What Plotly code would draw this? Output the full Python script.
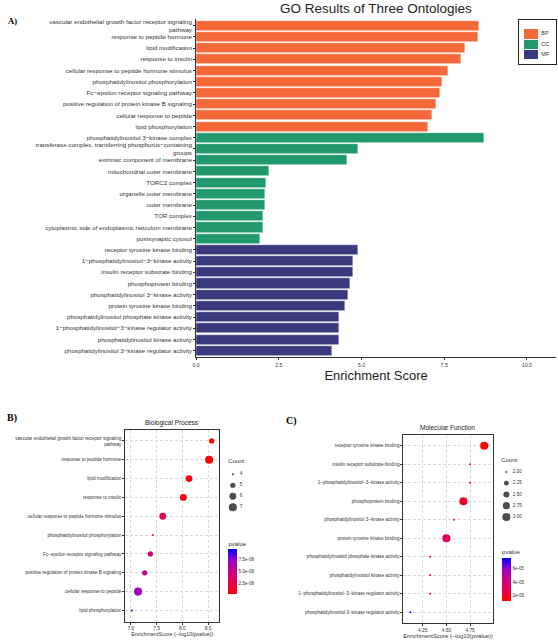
import textwrap
import numpy as np
import plotly.graph_objects as go

W, H = 558, 642

# ---------------- data ----------------
bp_terms = [
    "vascular endothelial growth factor receptor signaling pathway",
    "response to peptide hormone",
    "lipid modification",
    "response to insulin",
    "cellular response to peptide hormone stimulus",
    "phosphatidylinositol phosphorylation",
    "Fc−epsilon receptor signaling pathway",
    "positive regulation of protein kinase B signaling",
    "cellular response to peptide",
    "lipid phosphorylation",
]
bp_scores = [8.57, 8.52, 8.13, 8.02, 7.62, 7.43, 7.38, 7.27, 7.14, 7.02]
bp_counts = [5, 7, 6, 6, 6, 4, 5, 5, 7, 4]

cc_terms = [
    "phosphatidylinositol 3−kinase complex",
    "transferase complex, transferring phosphorus−containing groups",
    "extrinsic component of membrane",
    "mitochondrial outer membrane",
    "TORC2 complex",
    "organelle outer membrane",
    "outer membrane",
    "TOR complex",
    "cytoplasmic side of endoplasmic reticulum membrane",
    "postsynaptic cytosol",
]
cc_scores = [8.70, 4.89, 4.56, 2.20, 2.11, 2.10, 2.09, 2.02, 2.02, 1.93]

mf_bar_terms = [
    "receptor tyrosine kinase binding",
    "1−phosphatidylinositol−3−kinase activity",
    "insulin receptor substrate binding",
    "phosphoprotein binding",
    "phosphatidylinositol 3−kinase activity",
    "protein tyrosine kinase binding",
    "phosphatidylinositol phosphate kinase activity",
    "1−phosphatidylinositol−3−kinase regulator activity",
    "phosphatidylinositol kinase activity",
    "phosphatidylinositol 3−kinase regulator activity",
]
mf_bar_scores = [4.90, 4.75, 4.75, 4.67, 4.58, 4.50, 4.32, 4.32, 4.32, 4.12]

mf_dot_terms = [
    "receptor tyrosine kinase binding",
    "insulin receptor substrate binding",
    "1−phosphatidylinositol−3−kinase activity",
    "phosphoprotein binding",
    "phosphatidylinositol 3−kinase activity",
    "protein tyrosine kinase binding",
    "phosphatidylinositol phosphate kinase activity",
    "phosphatidylinositol kinase activity",
    "1−phosphatidylinositol−3−kinase regulator activity",
    "phosphatidylinositol 3−kinase regulator activity",
]
mf_dot_scores = [4.90, 4.75, 4.75, 4.68, 4.58, 4.50, 4.33, 4.33, 4.33, 4.12]
mf_dot_counts = [3, 2, 2, 3, 2, 3, 2, 2, 2, 2]

ontologies = ["BP", "CC", "MF"]
bp_count_breaks = [4, 5, 6, 7]
bp_count_labels = ["4", "5", "6", "7"]
mf_count_breaks = [2.00, 2.25, 2.50, 2.75, 3.00]
mf_count_labels = ["2.00", "2.25", "2.50", "2.75", "3.00"]
bp_p_ticks = [2.5e-8, 5.0e-8, 7.5e-8]
bp_p_labels = ["2.5e-08", "5.0e-08", "7.5e-08"]
mf_p_ticks = [2e-5, 4e-5, 6e-5]
mf_p_labels = ["2e-05", "4e-05", "6e-05"]
top_x_ticks = [0, 2.5, 5, 7.5, 10]
top_x_labels = ["0.0", "2.5", "5.0", "7.5", "10.0"]

# ---------------- style ----------------
COLORS = {"BP": "#F4683A", "CC": "#21996C", "MF": "#393A7C"}
FONT = "Liberation Sans, Arial, sans-serif"
TXT = "#333333"
PSCALE = [[0, "#FF0000"], [0.25, "#E8004F"], [0.5, "#CA0089"], [0.75, "#9A00C2"], [1, "#0000FF"]]


def wrap(t, w=55):
    return "<br>".join(textwrap.wrap(t, w))


def fx(p):
    return p / W


def fy(p):
    return 1 - p / H


def dot_size(c, lo, hi):
    return max(2.0, 1.35 * (1 + 5 * np.sqrt((c - lo) / (hi - lo))))


fig = go.Figure()

# ---------------- A) bar chart ----------------
groups = [("BP", bp_terms, bp_scores), ("CC", cc_terms, cc_scores), ("MF", mf_bar_terms, mf_bar_scores)]
top_cats = []
for name, terms, scores in groups:
    labels = [wrap(t) for t in terms]
    top_cats += labels
    fig.add_trace(go.Bar(
        x=scores, y=labels, orientation="h", width=0.9, name=name,
        marker=dict(color=COLORS[name], line=dict(color="white", width=0.5)),
        xaxis="x", yaxis="y", showlegend=False, hoverinfo="x+y"))

# legend for A (mini axes)
fig.add_trace(go.Bar(
    x=[0.38] * 3, base=[0.127] * 3, y=ontologies, orientation="h", width=0.92,
    marker=dict(color=[COLORS[o] for o in ontologies], line=dict(width=0)),
    xaxis="x6", yaxis="y6", showlegend=False, hoverinfo="skip"))
fig.add_trace(go.Scatter(
    x=[0.6] * 3, y=ontologies, mode="text", text=ontologies, textposition="middle right",
    textfont=dict(size=5.5, color=TXT, family=FONT),
    xaxis="x6", yaxis="y6", showlegend=False, hoverinfo="skip"))

# ---------------- B) Biological Process dot plot ----------------
bp_p = [10 ** (-s) for s in bp_scores]
bp_labels = [wrap(t) for t in bp_terms]
fig.add_trace(go.Scatter(
    x=bp_scores, y=bp_labels, mode="markers",
    marker=dict(size=[dot_size(c, min(bp_counts), max(bp_counts)) for c in bp_counts],
                color=bp_p, coloraxis="coloraxis", line=dict(width=0), opacity=1),
    xaxis="x2", yaxis="y2", showlegend=False))

# size legend B
fig.add_trace(go.Scatter(
    x=[0.22] * len(bp_count_breaks), y=bp_count_breaks, mode="markers",
    marker=dict(size=[dot_size(c, min(bp_counts), max(bp_counts)) for c in bp_count_breaks],
                color="black", line=dict(width=0)),
    xaxis="x4", yaxis="y4", showlegend=False, hoverinfo="skip"))
fig.add_trace(go.Scatter(
    x=[0.5] * len(bp_count_breaks) + [0.03], y=bp_count_breaks + [2.85], mode="text",
    text=bp_count_labels + ["Count"], textposition="middle right",
    textfont=dict(size=[4.6] * len(bp_count_breaks) + [6], color=TXT, family=FONT),
    xaxis="x4", yaxis="y4", showlegend=False, hoverinfo="skip"))

# ---------------- C) Molecular Function dot plot ----------------
mf_p = [10 ** (-s) for s in mf_dot_scores]
mf_labels = [wrap(t) for t in mf_dot_terms]
fig.add_trace(go.Scatter(
    x=mf_dot_scores, y=mf_labels, mode="markers",
    marker=dict(size=[dot_size(c, min(mf_dot_counts), max(mf_dot_counts)) for c in mf_dot_counts],
                color=mf_p, coloraxis="coloraxis2", line=dict(width=0), opacity=1),
    xaxis="x3", yaxis="y3", showlegend=False))

fig.add_trace(go.Scatter(
    x=[0.24] * len(mf_count_breaks), y=mf_count_breaks, mode="markers",
    marker=dict(size=[dot_size(c, min(mf_dot_counts), max(mf_dot_counts)) for c in mf_count_breaks],
                color="black", line=dict(width=0)),
    xaxis="x5", yaxis="y5", showlegend=False, hoverinfo="skip"))
fig.add_trace(go.Scatter(
    x=[0.5] * len(mf_count_breaks) + [0.03], y=mf_count_breaks + [1.74], mode="text",
    text=mf_count_labels + ["Count"], textposition="middle right",
    textfont=dict(size=[4.6] * len(mf_count_breaks) + [6], color=TXT, family=FONT),
    xaxis="x5", yaxis="y5", showlegend=False, hoverinfo="skip"))

# ---------------- layout ----------------
hidden = dict(visible=False, showgrid=False, zeroline=False, fixedrange=True)

dot_x_common = dict(showline=True, mirror=True, linecolor="#333333", linewidth=0.9,
                    showgrid=True, gridcolor="#DADADA", gridwidth=0.5, griddash="3px,2px",
                    zeroline=False, ticks="outside", ticklen=2, tickcolor="#333333",
                    tickfont=dict(size=4.8, color=TXT, family=FONT))
dot_y_common = dict(type="category", showline=True, mirror=True, linecolor="#333333", linewidth=0.9,
                    showgrid=True, gridcolor="#DADADA", gridwidth=0.5, griddash="3px,2px",
                    ticks="outside", ticklen=2, tickcolor="#333333",
                    tickfont=dict(size=4.6, color=TXT, family=FONT), range=[9.6, -0.6])

fig.update_layout(
    width=W, height=H, margin=dict(l=0, r=0, t=0, b=0),
    paper_bgcolor="white", plot_bgcolor="white",
    font=dict(family=FONT, color=TXT),
    bargap=0,
    xaxis=dict(domain=[fx(193.5), fx(556)], anchor="y", range=[0, 10.88],
               tickvals=top_x_ticks, ticktext=top_x_labels,
               tickfont=dict(size=5.2, color=TXT), ticks="outside", ticklen=2, tickcolor="#333333",
               showline=True, linecolor="#333333", linewidth=1, showgrid=False, zeroline=False,
               title=dict(text="Enrichment Score", font=dict(size=13, color="#222222"), standoff=2)),
    yaxis=dict(domain=[fy(357), fy(18)], anchor="x", type="category",
               categoryorder="array", categoryarray=top_cats, range=[29.6, -0.6],
               showline=True, linecolor="#333333", linewidth=0.8, ticks="outside", ticklen=2,
               tickcolor="#333333", tickfont=dict(size=6.2, color=TXT), showgrid=False),
    xaxis2=dict(domain=[fx(122), fx(217)], anchor="y2", range=[6.89, 8.72],
                tickvals=[7.0, 7.5, 8.0, 8.5], ticktext=["7.0", "7.5", "8.0", "8.5"],
                title=dict(text="EnrichmentScore (−log10(pvalue))", font=dict(size=5.4, color=TXT), standoff=1),
                **dot_x_common),
    yaxis2=dict(domain=[fy(621.7), fy(429.3)], anchor="x2",
                categoryorder="array", categoryarray=bp_labels, **dot_y_common),
    xaxis3=dict(domain=[fx(402.3), fx(492.3)], anchor="y3", range=[4.046, 4.99],
                tickvals=[4.25, 4.5, 4.75], ticktext=["4.25", "4.50", "4.75"],
                title=dict(text="EnrichmentScore (−log10(pvalue))", font=dict(size=5.9, color=TXT), standoff=1),
                **dot_x_common),
    yaxis3=dict(domain=[fy(623.3), fy(434.3)], anchor="x3",
                categoryorder="array", categoryarray=mf_labels, **dot_y_common),
    xaxis4=dict(domain=[fx(225), fx(250)], anchor="y4", range=[0, 1], **hidden),
    yaxis4=dict(domain=[fy(512.5), fy(456.4)], anchor="x4", range=[7.5, 2.4], **hidden),
    xaxis5=dict(domain=[fx(500), fx(525)], anchor="y5", range=[0, 1], **hidden),
    yaxis5=dict(domain=[fy(523.5), fy(453.7)], anchor="x5", range=[3.15, 1.6], **hidden),
    xaxis6=dict(domain=[fx(519), fx(556)], anchor="y6", range=[0, 1], showline=True, mirror=True,
                linecolor="#222222", linewidth=1, showticklabels=False, showgrid=False, zeroline=False,
                ticks="", fixedrange=True),
    yaxis6=dict(domain=[fy(63), fy(19)], anchor="x6", type="category",
                categoryorder="array", categoryarray=ontologies, range=[2.9, -1.35],
                showline=True, mirror=True, linecolor="#222222", linewidth=1,
                showticklabels=False, showgrid=False, ticks="", fixedrange=True),
    coloraxis=dict(colorscale=PSCALE, cmin=min(bp_p), cmax=max(bp_p),
                   colorbar=dict(x=fx(226), xanchor="left", y=fy(566), yanchor="middle",
                                 len=56, lenmode="pixels", thickness=9, xpad=0, ypad=0,
                                 outlinewidth=0, ticks="", tickvals=bp_p_ticks, ticktext=bp_p_labels,
                                 tickfont=dict(size=4.6, color=TXT),
                                 title=dict(text="pvalue", side="top", font=dict(size=6, color=TXT)))),
    coloraxis2=dict(colorscale=PSCALE, cmin=min(mf_p), cmax=max(mf_p),
                    colorbar=dict(x=fx(501.7), xanchor="left", y=fy(573.7), yanchor="middle",
                                  len=54, lenmode="pixels", thickness=9, xpad=0, ypad=0,
                                  outlinewidth=0, ticks="", tickvals=mf_p_ticks, ticktext=mf_p_labels,
                                  tickfont=dict(size=4.6, color=TXT),
                                  title=dict(text="pvalue", side="top", font=dict(size=6, color=TXT)))),
    annotations=[
        dict(text="GO Results of Three Ontologies", x=fx(375), y=fy(7.5), xref="paper", yref="paper",
             showarrow=False, xanchor="center", yanchor="middle", font=dict(size=13.5, color="#222222")),
        dict(text="<b>A)</b>", x=fx(2), y=fy(20), xref="paper", yref="paper", showarrow=False,
             xanchor="left", yanchor="middle", font=dict(size=8.5, family="Liberation Serif, serif", color="black")),
        dict(text="<b>B)</b>", x=fx(1.5), y=fy(418), xref="paper", yref="paper", showarrow=False,
             xanchor="left", yanchor="middle", font=dict(size=10, family="Liberation Serif, serif", color="black")),
        dict(text="<b>C)</b>", x=fx(282), y=fy(421), xref="paper", yref="paper", showarrow=False,
             xanchor="left", yanchor="middle", font=dict(size=10, family="Liberation Serif, serif", color="black")),
        dict(text="Biological Process", x=fx(169.5), y=fy(422.7), xref="paper", yref="paper",
             showarrow=False, xanchor="center", yanchor="middle", font=dict(size=6.5, color="#222222")),
        dict(text="Molecular Function", x=fx(447), y=fy(426.7), xref="paper", yref="paper",
             showarrow=False, xanchor="center", yanchor="middle", font=dict(size=6.5, color="#222222")),
    ],
)

fig.write_html("out.html")
